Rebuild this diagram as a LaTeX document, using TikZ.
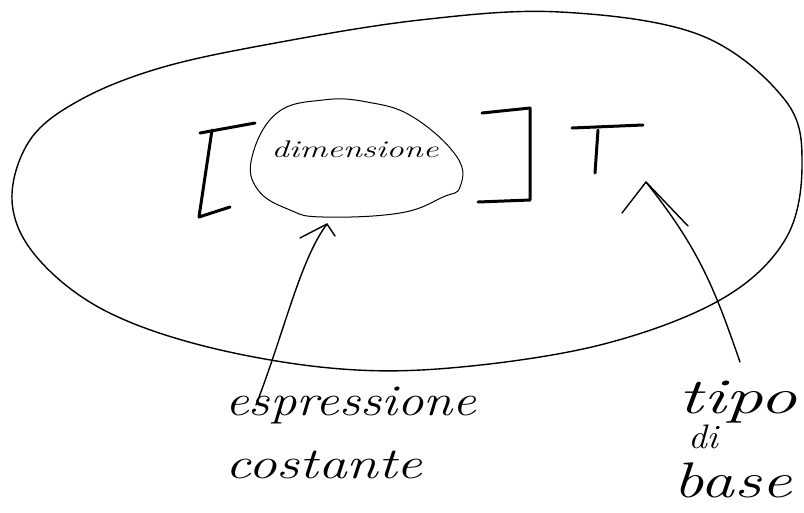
\documentclass[tikz,border=0pt]{standalone}
\usetikzlibrary{arrows.meta}
\begin{document}
\begin{tikzpicture}[x=1pt,y=-1pt,
  ink/.style={line width=1.4pt,line cap=round,line join=round},
  thick ink/.style={line width=3pt,line cap=round,line join=round},
  hand/.style={inner sep=0pt},
]
\useasboundingbox (0,0) rectangle (804,512);
% big loop
\draw[ink] plot[smooth cycle,tension=0.6] coordinates {
 (270,44) (420,20) (560,12) (700,35) (785,100) (802,165) (785,240)
 (720,300) (600,345) (450,368) (330,368) (200,345) (100,308)
 (35,255) (12,200) (30,140) (80,100) (160,68)};
% left bracket
\draw[thick ink] (200,133) -- (255,123);
\draw[thick ink] (212,130) -- (199,217) -- (230,207);
% cloud
\node[hand] (dim) at (355,149) {\scalebox{1.45}[1]{\itshape\fontsize{24}{24}\selectfont dimensione}};
\draw[ink,line width=1pt] plot[smooth cycle,tension=0.7] coordinates {
 (323,100) (367,102) (413,117) (457,157) (460,187) (443,197) (400,213) (323,217)
 (290,210) (258,190) (252,157) (277,113)};
\coordinate (cloudb) at (327,224);
% right bracket
\draw[thick ink] (482,113) -- (530,108) -- (530,200) -- (478,202);
% T
\draw[thick ink] (572,128) -- (643,125);
\draw[thick ink] (598,130) -- (595,173);
% labels
\node[hand,anchor=west] (esp) at (225,405) {\scalebox{1.2}[1]{\itshape\fontsize{44}{44}\selectfont espressione}};
\node[hand,anchor=west] (cost) at (225,465) {\scalebox{1.3}[1]{\itshape\fontsize{44}{44}\selectfont costante}};
\node[hand] (tipo) at (738,402) {\scalebox{1.5}[1]{\itshape\fontsize{50}{50}\selectfont tipo}};
\node[hand] (di) at (703,437) {\scalebox{1.1}[1]{\itshape\fontsize{34}{34}\selectfont di}};
\node[hand] (base) at (733,480) {\scalebox{1.35}[1]{\itshape\fontsize{50}{50}\selectfont base}};
% arrows
\coordinate (a1) at (256,405);
\draw[ink] (a1) .. controls (285,330) and (300,260) .. (cloudb);
\draw[ink] (300,238) -- (cloudb) -- (335,236);
\coordinate (a2) at (740,362);
\coordinate (Ttip) at (646,182);
\draw[ink] (a2) .. controls (715,290) and (700,250) .. (Ttip);
\draw[ink] (622,213) -- (Ttip) -- (688,226);
\end{tikzpicture}
\end{document}
